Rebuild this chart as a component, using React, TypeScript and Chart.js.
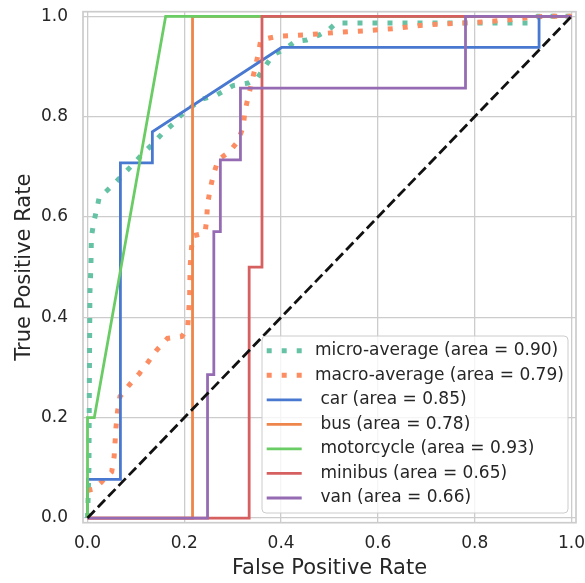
import React, { useEffect, useRef } from "react";
import { Chart, registerables } from "chart.js";

Chart.register(...registerables);

const FONT = '"DejaVu Sans", sans-serif';
const TEXT = "#262626";
const GRID = "#cccccc";

const tickValues = [0, 0.2, 0.4, 0.6, 0.8, 1.0];
const tickLabels = ["0.0", "0.2", "0.4", "0.6", "0.8", "1.0"];

const microFpr = [0, 0.001, 0.003, 0.004, 0.005, 0.007, 0.008, 0.013, 0.019, 0.024, 0.046, 0.067, 0.088, 0.11, 0.133, 0.153, 0.176, 0.195, 0.236, 0.265, 0.301, 0.332, 0.351, 0.376, 0.389, 0.41, 0.429, 0.453, 0.479, 0.498, 0.514, 0.91, 0.93, 1];
const microTpr = [0, 0.03, 0.1, 0.3, 0.45, 0.5, 0.56, 0.59, 0.615, 0.638, 0.658, 0.678, 0.699, 0.722, 0.744, 0.765, 0.785, 0.805, 0.835, 0.842, 0.862, 0.867, 0.877, 0.913, 0.926, 0.936, 0.95, 0.953, 0.963, 0.973, 0.987, 0.987, 1.0, 1];

const macroFpr = [0, 0.014, 0.029, 0.05, 0.055, 0.057, 0.059, 0.062, 0.067, 0.086, 0.107, 0.126, 0.144, 0.165, 0.195, 0.207, 0.211, 0.212, 0.215, 0.22, 0.243, 0.246, 0.248, 0.253, 0.26, 0.27, 0.293, 0.31, 0.322, 0.325, 0.332, 0.339, 0.346, 0.353, 0.358, 0.391, 0.45, 0.515, 0.573, 0.637, 0.697, 0.759, 0.821, 0.883, 0.914, 0.945, 1];
const macroTpr = [0.055, 0.058, 0.072, 0.092, 0.122, 0.152, 0.182, 0.212, 0.242, 0.265, 0.288, 0.312, 0.336, 0.358, 0.362, 0.38, 0.44, 0.5, 0.54, 0.563, 0.568, 0.594, 0.624, 0.654, 0.684, 0.714, 0.73, 0.75, 0.78, 0.81, 0.839, 0.867, 0.896, 0.926, 0.953, 0.96, 0.963, 0.968, 0.971, 0.976, 0.983, 0.986, 0.989, 0.994, 0.998, 1.0, 1];

const carFpr = [0, 0, 0.068, 0.068, 0.134, 0.134, 0.401, 0.933, 0.933, 1];
const carTpr = [0, 0.077, 0.077, 0.708, 0.708, 0.77, 0.938, 0.938, 1, 1];

const busFpr = [0, 0.217, 0.217, 1];
const busTpr = [0, 0, 1, 1];

const motoFpr = [0, 0, 0.014, 0.1615, 1];
const motoTpr = [0, 0.2, 0.2, 1, 1];

const minibusFpr = [0, 0.334, 0.334, 0.3605, 0.3605, 1];
const minibusTpr = [0, 0, 0.5, 0.5, 1, 1];

const vanFpr = [0, 0.248, 0.248, 0.261, 0.261, 0.2745, 0.2745, 0.316, 0.316, 0.781, 0.781, 1];
const vanTpr = [0, 0, 0.286, 0.286, 0.571, 0.571, 0.714, 0.714, 0.857, 0.857, 1, 1];

const chanceFpr = [0, 1];
const chanceTpr = [0, 1];

const seriesLabels = [
  "micro-average (area = 0.90)",
  "macro-average (area = 0.79)",
  " car (area = 0.85)",
  " bus (area = 0.78)",
  " motorcycle (area = 0.93)",
  " minibus (area = 0.65)",
  " van (area = 0.66)",
];

const pts = (xs: number[], ys: number[]) => xs.map((x, i) => ({ x, y: ys[i] }));

const zeroPad = (s: any) => {
  s.paddingTop = 0;
  s.paddingBottom = 0;
  s.paddingLeft = 0;
  s.paddingRight = 0;
};

const framePlugin = {
  id: "frame",
  afterDatasetsDraw(chart: any) {
    const { ctx, chartArea: a } = chart;
    ctx.save();
    ctx.strokeStyle = GRID;
    ctx.lineWidth = 1.7;
    ctx.setLineDash([]);
    ctx.strokeRect(a.left, a.top, a.right - a.left, a.bottom - a.top);
    ctx.restore();
  },
};

const legendPlugin = {
  id: "rocLegend",
  afterDatasetsDraw(chart: any) {
    const { ctx, chartArea: a } = chart;
    const items = chart.data.datasets.filter((d: any) => d.label);
    const boxW = 306;
    const boxH = 177;
    const right = a.right - 8;
    const bottom = a.bottom - 9.7;
    const left = right - boxW;
    const top = bottom - boxH;
    const rowH = 24.55;
    ctx.save();
    ctx.beginPath();
    const r = 4;
    ctx.moveTo(left + r, top);
    ctx.arcTo(right, top, right, bottom, r);
    ctx.arcTo(right, bottom, left, bottom, r);
    ctx.arcTo(left, bottom, left, top, r);
    ctx.arcTo(left, top, right, top, r);
    ctx.closePath();
    ctx.fillStyle = "rgba(255,255,255,0.8)";
    ctx.fill();
    ctx.strokeStyle = GRID;
    ctx.lineWidth = 1;
    ctx.stroke();
    items.forEach((d: any, i: number) => {
      const y = top + 14.7 + i * rowH;
      ctx.beginPath();
      ctx.setLineDash(d.borderDash || []);
      ctx.lineCap = "butt";
      ctx.lineWidth = d.borderWidth;
      ctx.strokeStyle = d.borderColor;
      ctx.moveTo(left + 4.7, y);
      ctx.lineTo(left + 39.7, y);
      ctx.stroke();
      ctx.setLineDash([]);
      ctx.fillStyle = TEXT;
      ctx.font = `17px ${FONT}`;
      ctx.textBaseline = "middle";
      ctx.textAlign = "left";
      ctx.fillText(d.label, left + 53, y);
    });
    ctx.restore();
  },
};

export default function App() {
  const ref = useRef<HTMLCanvasElement | null>(null);
  useEffect(() => {
    if (!ref.current) return;
    const dotted = { borderWidth: 5, borderDash: [5, 10] };
    const solid = { borderWidth: 2.8 };
    const chart = new Chart(ref.current, {
      type: "scatter",
      data: {
        datasets: [
          { label: seriesLabels[0], data: pts(microFpr, microTpr), borderColor: "#66c2a5", ...dotted, order: 8 },
          { label: seriesLabels[1], data: pts(macroFpr, macroTpr), borderColor: "#fc8d62", ...dotted, order: 7 },
          { label: seriesLabels[2], data: pts(carFpr, carTpr), borderColor: "#4878d0", ...solid, order: 6 },
          { label: seriesLabels[3], data: pts(busFpr, busTpr), borderColor: "#ee854a", ...solid, order: 5 },
          { label: seriesLabels[4], data: pts(motoFpr, motoTpr), borderColor: "#6acc64", ...solid, order: 4 },
          { label: seriesLabels[5], data: pts(minibusFpr, minibusTpr), borderColor: "#d65f5f", ...solid, order: 3 },
          { label: seriesLabels[6], data: pts(vanFpr, vanTpr), borderColor: "#956cb4", ...solid, order: 2 },
          { label: "", data: pts(chanceFpr, chanceTpr), borderColor: "#111111", borderWidth: 2.8, borderDash: [10.4, 4.5], order: 1 },
        ].map((d: any) => ({ ...d, showLine: true, pointRadius: 0, pointHoverRadius: 0, fill: false, tension: 0, backgroundColor: d.borderColor })),
      },
      options: {
        animation: false,
        responsive: true,
        maintainAspectRatio: false,
        events: [],
        layout: { padding: { top: 11.7, right: 9, left: 0, bottom: 0 } },
        plugins: { legend: { display: false }, tooltip: { enabled: false } },
        scales: {
          x: {
            type: "linear",
            min: -0.0093,
            max: 1.0093,
            afterBuildTicks: (s: any) => { s.ticks = tickValues.map((v) => ({ value: v })); },
            afterFit: (s: any) => { s.height = 60.3; zeroPad(s); },
            ticks: {
              callback: (_v: any, i: number) => tickLabels[i],
              font: { family: FONT, size: 17 },
              color: TEXT,
              padding: 11,
              maxRotation: 0,
            },
            grid: { color: GRID, lineWidth: 1.3, drawTicks: false },
            border: { display: false },
            title: { display: true, text: "False Positive Rate", font: { family: FONT, size: 21 }, color: TEXT, padding: { top: 0, bottom: 2 } },
          },
          y: {
            type: "linear",
            min: -0.0093,
            max: 1.0093,
            afterBuildTicks: (s: any) => { s.ticks = tickValues.map((v) => ({ value: v })); },
            afterFit: (s: any) => { s.width = 83; zeroPad(s); },
            ticks: {
              callback: (_v: any, i: number) => tickLabels[i],
              font: { family: FONT, size: 17 },
              color: TEXT,
              padding: 15,
            },
            grid: { color: GRID, lineWidth: 1.3, drawTicks: false },
            border: { display: false },
            title: { display: true, text: "True Positive Rate", font: { family: FONT, size: 21 }, color: TEXT, padding: { top: 12.4, bottom: 0 } },
          },
        },
      },
      plugins: [framePlugin, legendPlugin],
    });
    return () => chart.destroy();
  }, []);
  return (
    <div style={{ position: "absolute", left: 0, top: 0, width: 585, height: 583 }}>
      <canvas ref={ref} />
    </div>
  );
}
